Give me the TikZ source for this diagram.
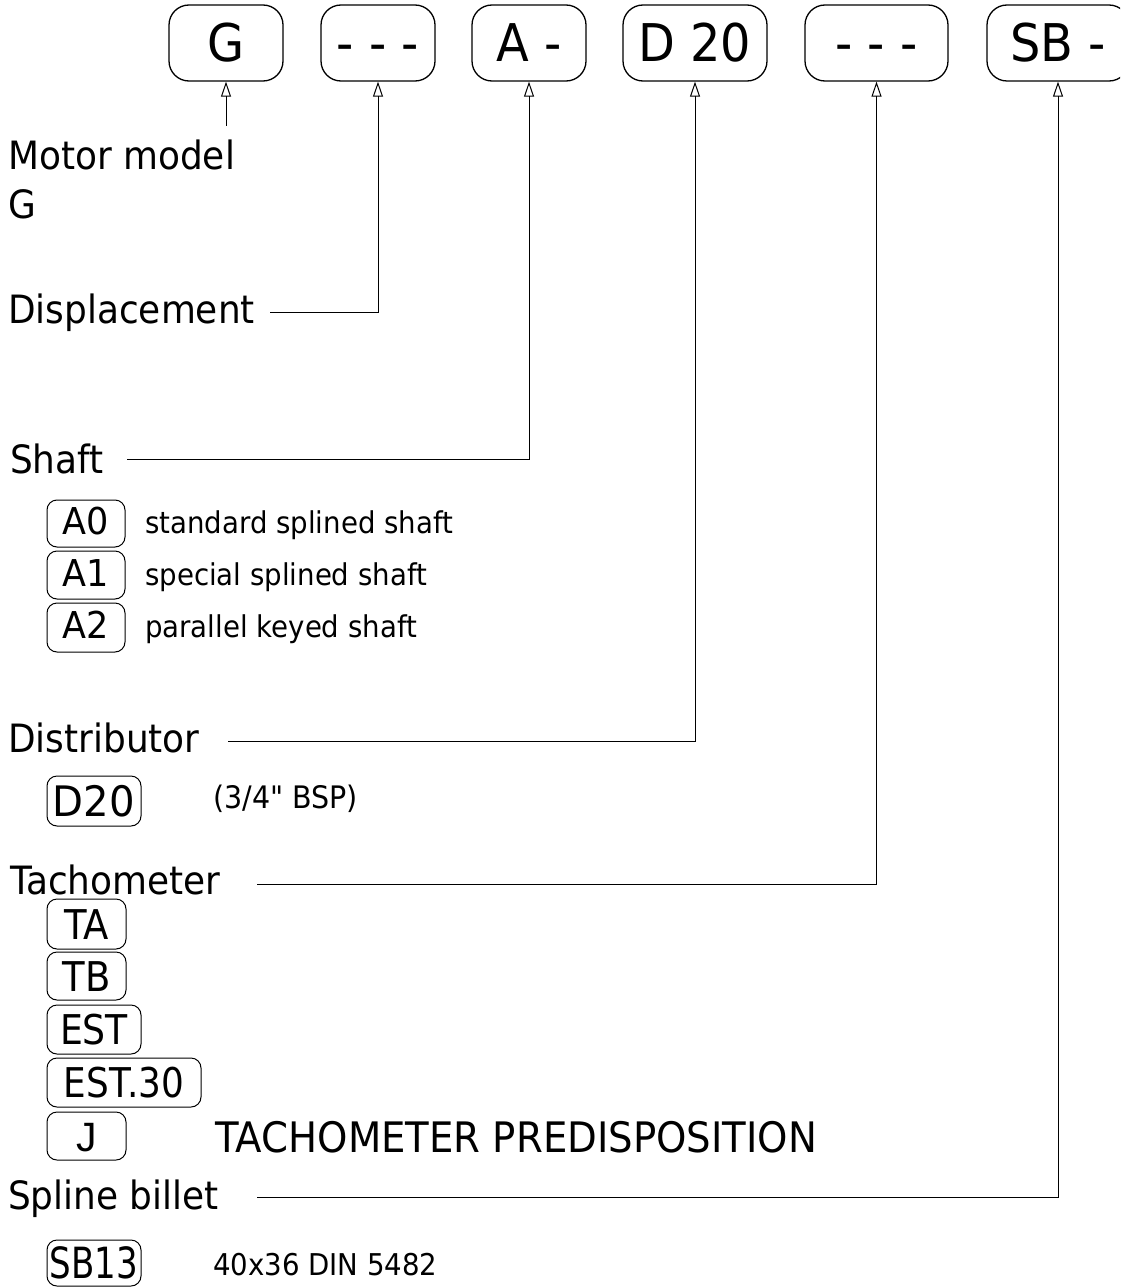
\documentclass[tikz,border=0pt]{standalone}
\usepackage{fontspec}
\setmainfont{DejaVu Sans}[FakeStretch=0.92, Ligatures=TeXOff]
\newfontfamily\libsans{Liberation Sans}
\usetikzlibrary{arrows.meta}
\newcommand{\fs}[1]{\fontsize{#1pt}{#1pt}\selectfont}
\tikzset{
  topbox/.style={draw, line width=1.3pt, rounded corners=20pt, inner sep=0pt, text depth=0pt, minimum height=76pt, font=\fs{52}, text height=38pt},
  subbox/.style={draw, line width=1pt, rounded corners=10pt, inner sep=0pt, text depth=0pt},
  shaftbox/.style={subbox, minimum width=78pt, font=\fs{37}, text height=27pt, text depth=5pt},
  tachbox/.style={subbox, font=\fs{41}, text height=30pt},
  lbl/.style={inner sep=0pt, anchor=base west, font=\fs{39}},
  desc/.style={inner sep=0pt, anchor=base west, font=\fs{30}},
  conn/.style={line width=1pt, -{Triangle[open,length=15pt,width=10pt,line width=1pt]}},
}
\begin{document}
\begin{tikzpicture}[x=1pt,y=-1pt]
\useasboundingbox (0,0) rectangle (1120,1287);
\clip (0,0) rectangle (1120,1287);
% top code boxes
\node[topbox, minimum width=114pt] (bG) at (226,43) {G};
\node[topbox, minimum width=114pt] (bDisp) at (378,43) {- - -};
\node[topbox, minimum width=114pt] (bA) at (529,43) {A -};
\node[topbox, minimum width=144pt] (bD) at (695,43) {D 20};
\node[topbox, minimum width=143pt] (bT) at (876.5,43) {- - -};
\node[topbox, minimum width=142pt] (bSB) at (1058,43) {SB -};

% labels
\node[lbl] (lMotor) at (8,169) {Motor model};
\node[lbl] (lG) at (8,218) {G};
\node[lbl] (lDisp) at (8,323) {Displacement};
\node[lbl] (lShaft) at (10,473) {Shaft};
\node[lbl] (lDist) at (8,752) {Distributor};
\node[lbl] (lTach) at (10,894) {Tachometer};
\node[lbl] (lSpline) at (8,1209) {Spline billet};

% connectors
\coordinate (cG) at (226,126);
\coordinate (cDisp) at (270,312);
\coordinate (cShaft) at (127,459);
\coordinate (cDist) at (228,741);
\coordinate (cTach) at (257,884);
\coordinate (cSpline) at (257,1197);
\draw[conn] (cG) -- (bG.south);
\draw[conn] (cDisp) -| (bDisp.south);
\draw[conn] (cShaft) -| (bA.south);
\draw[conn] (cDist) -| (bD.south);
\draw[conn] (cTach) -| (bT.south);
\draw[conn] (cSpline) -| (bSB.south);

% shaft options
\node[shaftbox, minimum height=47pt] (sA0) at (86,523.5) {\scalebox{1.03}[1]{A0}};
\node[shaftbox, minimum height=48pt] (sA1) at (86,575) {\scalebox{1.03}[1]{A1}};
\node[shaftbox, minimum height=49pt] (sA2) at (86,627.5) {\scalebox{1.03}[1]{A2}};
\node[desc] (dA0) at (145,533) {standard splined shaft};
\node[desc] (dA1) at (145,585) {special splined shaft};
\node[desc] (dA2) at (145,637) {parallel keyed shaft};

% distributor option
\node[subbox, minimum width=94pt, minimum height=50pt, font=\fs{42}, text height=30pt] (sD20) at (94,801) {\scalebox{1.04}[1]{D20}};
\node[desc, font=\fs{31}] (dD20) at (213,808) {(3/4" BSP)};

% tachometer options
\node[tachbox, minimum width=79pt, minimum height=50pt] (sTA) at (86.5,924) {\scalebox{0.98}[1]{TA}};
\node[tachbox, minimum width=79pt, minimum height=48pt] (sTB) at (86.5,976) {\scalebox{0.98}[1]{TB}};
\node[tachbox, minimum width=94pt, minimum height=49pt] (sEST) at (94,1029.5) {\scalebox{0.96}[1]{EST}};
\node[tachbox, minimum width=154pt, minimum height=49pt] (sEST30) at (124,1082.5) {\scalebox{0.95}[1]{EST.30}};
\node[tachbox, minimum width=79pt, minimum height=48pt] (sJ) at (86.5,1136) {\libsans J};
\node[desc, font=\fs{42}] (dJ) at (215,1152) {TACHOMETER PREDISPOSITION};

% spline billet option
\node[subbox, minimum width=94pt, minimum height=46pt, font=\fs{43}, text height=31pt] (sSB13) at (94,1263) {\scalebox{0.86}[1]{SB13}};
\node[desc] (dSB13) at (213,1275) {40x36 DIN 5482};
\end{tikzpicture}
\end{document}
